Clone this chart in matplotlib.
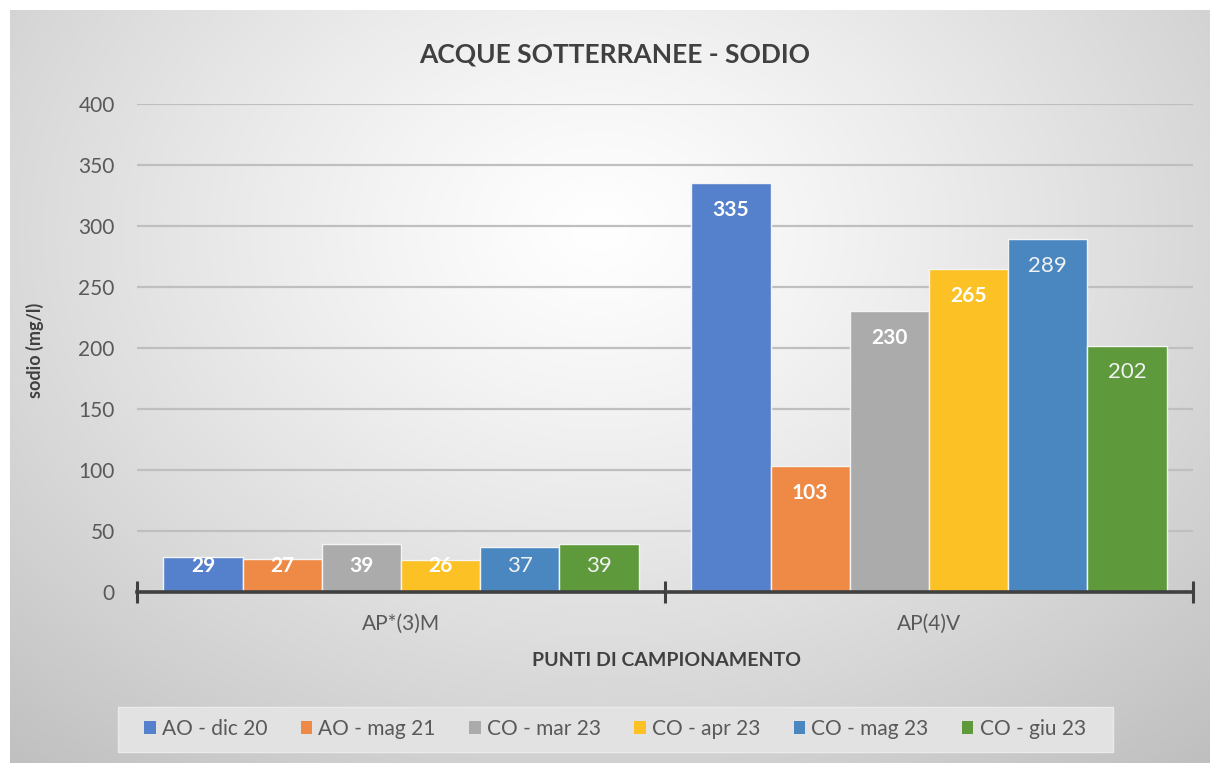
import numpy as np
import matplotlib
matplotlib.use("Agg")
import matplotlib.pyplot as plt
from matplotlib.patches import Rectangle

categories = ["AP*(3)M", "AP(4)V"]
series = ["AO - dic 20", "AO - mag 21", "CO - mar 23", "CO - apr 23", "CO - mag 23", "CO - giu 23"]
values = [
    [29, 335],
    [27, 103],
    [39, 230],
    [26, 265],
    [37, 289],
    [39, 202],
]
colors = ["#5580CB", "#EE8A45", "#ABABAB", "#FCC124", "#4A87C0", "#5E9A3C"]
label_bold = [True, True, True, True, False, False]
yticks = [0, 50, 100, 150, 200, 250, 300, 350, 400]

plt.rcParams['font.family'] = ['Lato', 'DejaVu Sans']

W, H = 1210, 763
fig = plt.figure(figsize=(W / 100, H / 100), dpi=100)
fig.patch.set_facecolor("white")

# background gradient
bg = fig.add_axes([10 / W, 0, 1200 / W, 753 / H])
bg.set_axis_off()
xx, yy = np.meshgrid(np.linspace(10, 1210, 600), np.linspace(10, 763, 380))
dx = (xx - 600) / 600
dy = (yy - 230) / 460
r = np.sqrt(dx ** 2 + dy ** 2)
g = 1 - 0.15 * r ** 1.2
g = np.clip(g, 0, 1)
img = np.dstack([g, g, g])
bg.imshow(img, aspect="auto", extent=[0, 1, 0, 1], origin="upper")
bg.set_xlim(0, 1)
bg.set_ylim(0, 1)

ax = fig.add_axes([137 / W, 1 - 592 / H, (1193 - 137) / W, (592 - 104) / H])
ax.patch.set_visible(False)

n = len(series)
bw = 0.15
x = np.arange(len(categories))
for i, (s, vals, c) in enumerate(zip(series, values, colors)):
    pos = x + (i - (n - 1) / 2) * bw
    ax.bar(pos, vals, width=bw, color=c, edgecolor="#F4F4F4", linewidth=1.0, label=s, zorder=3)
    for px, v in zip(pos, vals):
        ly = v - 22 if v > 60 else 21
        if label_bold[i]:
            ax.text(px, ly, str(v), ha="center", va="center", color="white",
                    fontsize=15, fontweight="bold", zorder=4)
        else:
            ax.text(px, ly, str(v), ha="center", va="center", color="#F2F2F2",
                    fontsize=16, zorder=4)

ax.set_xlim(-0.5, len(categories) - 0.5)
ax.set_ylim(0, 400)
ax.set_yticks(yticks)
ax.set_yticklabels([str(t) for t in yticks], fontsize=15, color="#595959")
ax.tick_params(axis="y", length=0, pad=16)
ax.yaxis.grid(True, color="#BFBFBF", linewidth=1.6, zorder=0)
ax.set_axisbelow(True)

ax.set_xticks(np.arange(-0.5, len(categories), 1.0))
ax.set_xticklabels([])
ax.tick_params(axis="x", which="major", direction="inout", length=16, width=2.2, color="#404040")
ax.set_xticks(x, minor=True)
ax.set_xticklabels(categories, minor=True, fontsize=15, color="#595959")
ax.tick_params(axis="x", which="minor", length=0, pad=16)

for sp in ["top", "right", "left"]:
    ax.spines[sp].set_visible(False)
ax.spines["bottom"].set_color("#404040")
ax.spines["bottom"].set_linewidth(2.6)
ax.spines["bottom"].set_zorder(5)

fig.text(615 / W, 1 - 55 / H, "ACQUE SOTTERRANEE - SODIO", ha="center", va="center",
         fontsize=19, fontweight="bold", color="#404040")
fig.text(35 / W, 1 - 350 / H, "sodio (mg/l)", ha="center", va="center", rotation=90,
         fontsize=13, fontweight="bold", color="#404040")
fig.text(666 / W, 1 - 661 / H, "PUNTI DI CAMPIONAMENTO", ha="center", va="center",
         fontsize=14, fontweight="bold", color="#404040")

# legend box
fig.patches.append(Rectangle((118 / W, 1 - 752 / H), (1113 - 118) / W, 45 / H,
                             transform=fig.transFigure, facecolor="#E2E2E2",
                             edgecolor="#EBEBEB", linewidth=1, zorder=1))
handles, labels = ax.get_legend_handles_labels()
leg = fig.legend(handles, labels, loc="center", bbox_to_anchor=(615 / W, 1 - 729 / H),
                 ncol=6, frameon=False, fontsize=15, handlelength=0.55, handleheight=0.55,
                 handletextpad=0.3, columnspacing=1.6, labelcolor="#595959")
for h in leg.legend_handles:
    h.set_edgecolor("none")

fig.savefig("out.png", dpi=100)
